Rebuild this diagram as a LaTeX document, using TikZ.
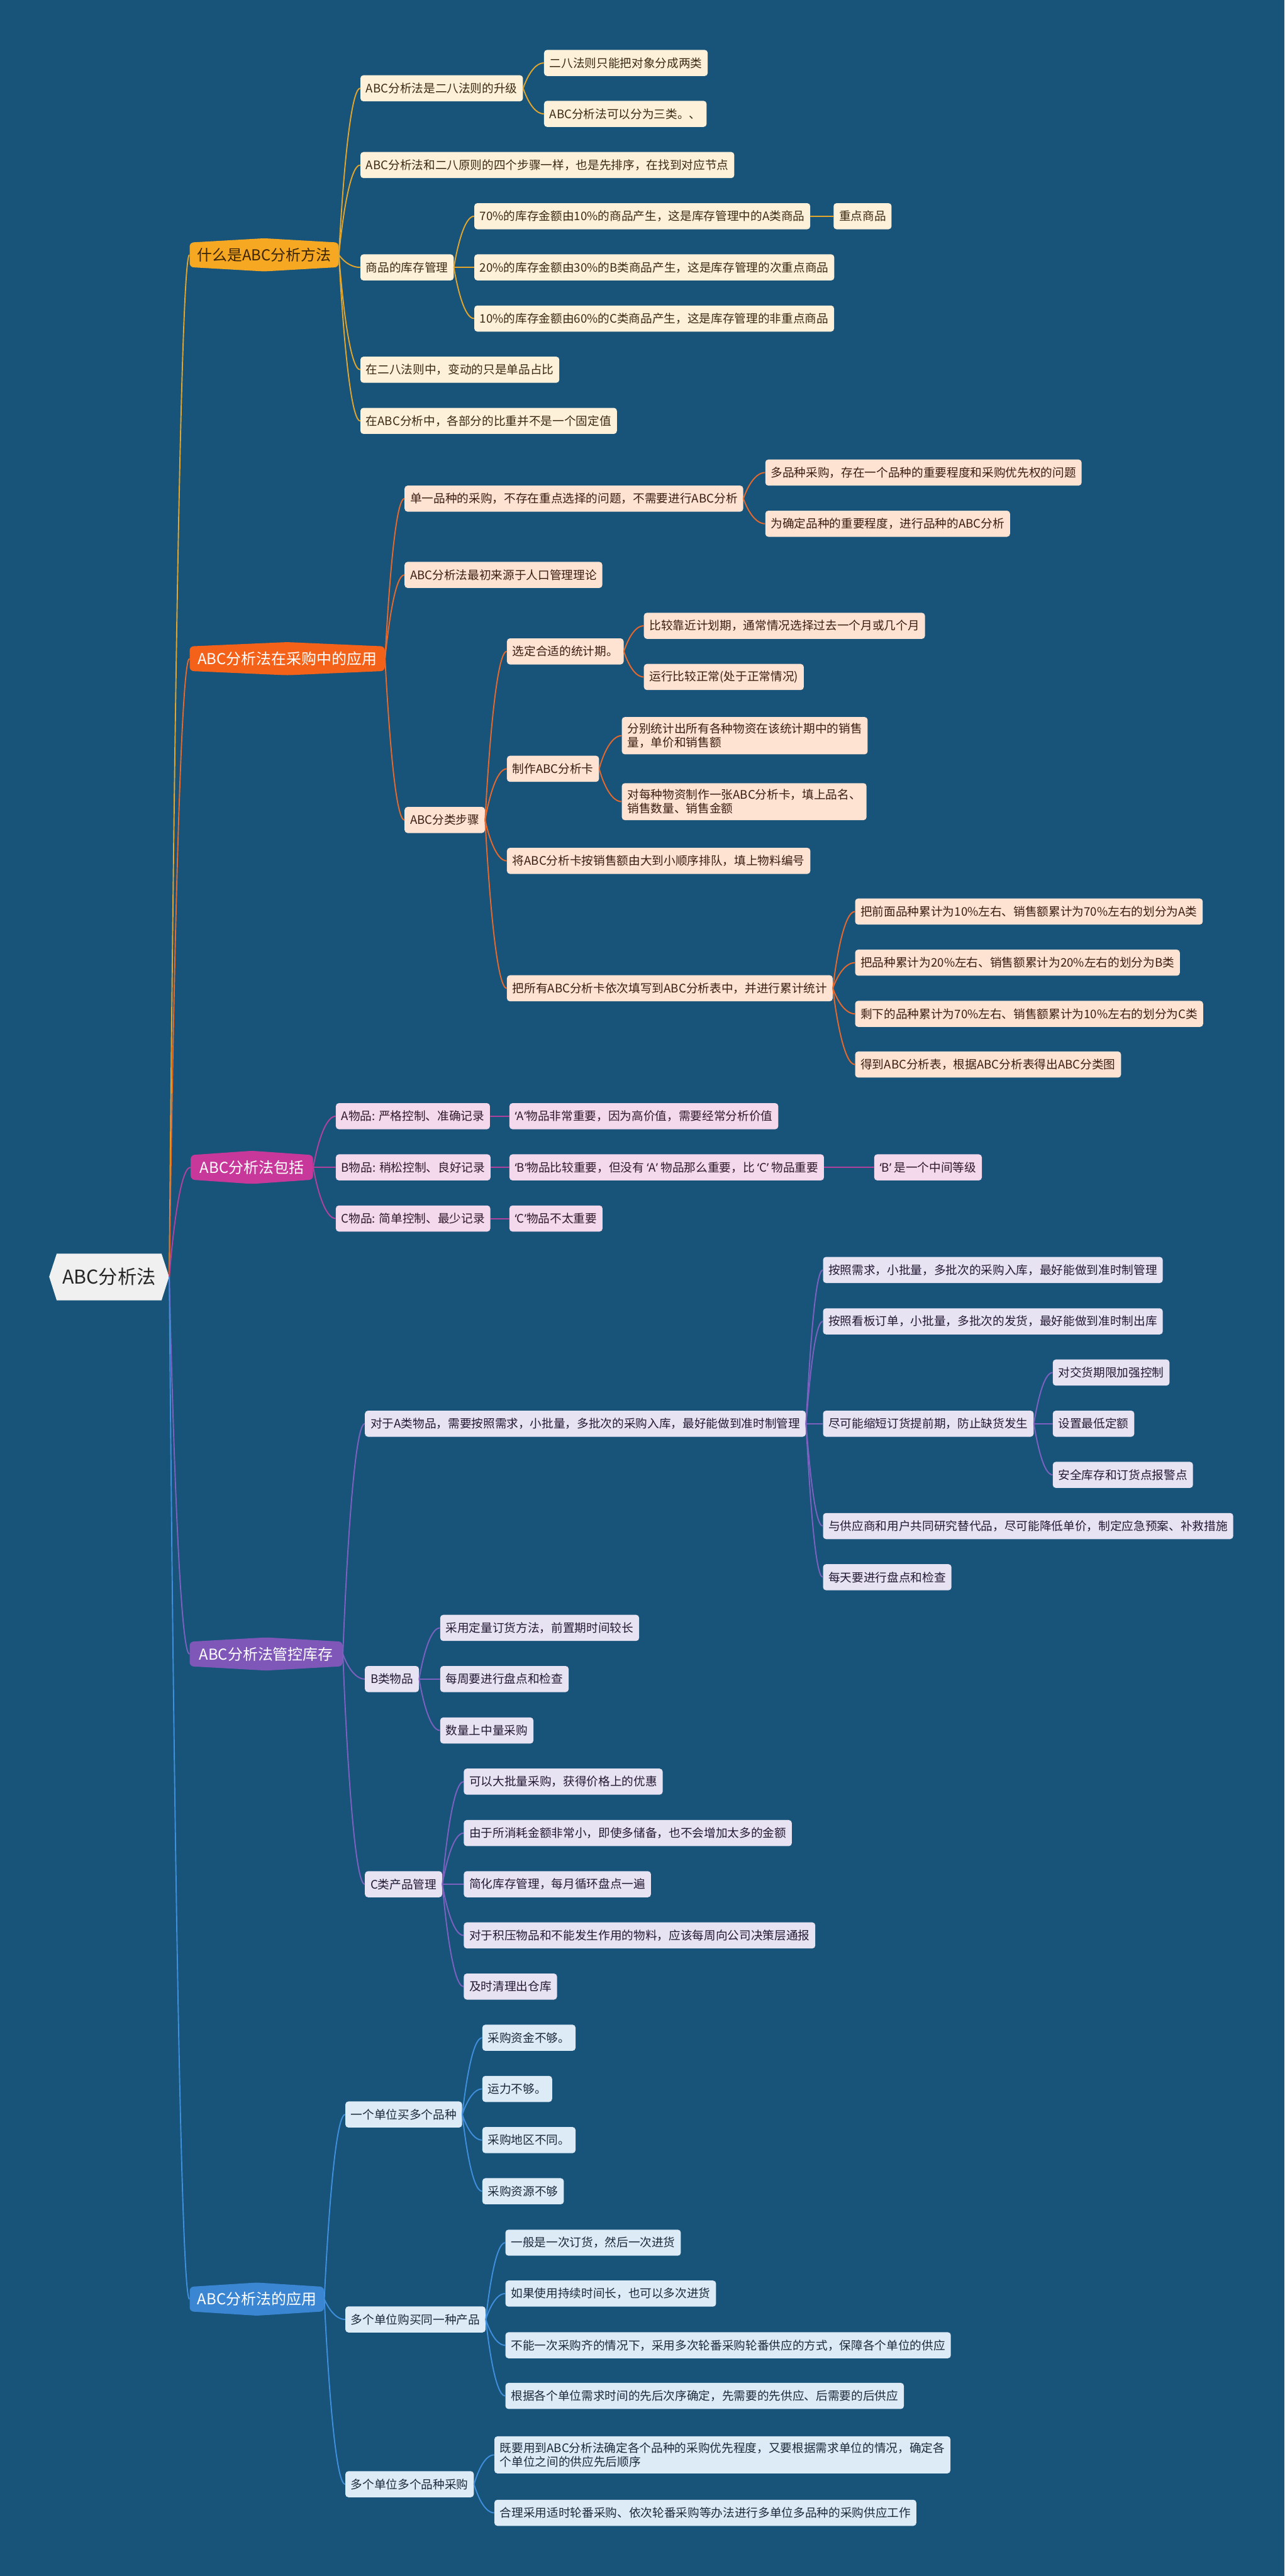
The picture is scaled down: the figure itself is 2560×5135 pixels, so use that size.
\documentclass[tikz,border=0pt]{standalone}
\usepackage{fontspec}
\setmainfont{Noto Sans CJK SC}
\newfontfamily\qfont{Noto Sans}
\newcommand\mmquote[1]{{\qfont ‘}#1{\qfont ’}}
\usetikzlibrary{calc}
\definecolor{bg}{RGB}{24,84,121}
\definecolor{rootf}{HTML}{F0F0F0}
\definecolor{roott}{HTML}{262626}
% section colours: category fill, line, leaf fill, leaf text
\definecolor{c1f}{HTML}{F7A823}\definecolor{k1}{HTML}{E3A52B}\definecolor{f1}{HTML}{FEF1DA}\definecolor{t1}{HTML}{3B2A12}
\definecolor{c2f}{HTML}{F4621A}\definecolor{k2}{HTML}{E8682C}\definecolor{f2}{HTML}{FEE2D2}\definecolor{t2}{HTML}{3A1E10}
\definecolor{c3f}{HTML}{C8389B}\definecolor{k3}{HTML}{B0429E}\definecolor{f3}{HTML}{F4D8EC}\definecolor{t3}{HTML}{2E1A2A}
\definecolor{c4f}{HTML}{7E57B8}\definecolor{k4}{HTML}{7D61C0}\definecolor{f4}{HTML}{E8E3F3}\definecolor{t4}{HTML}{221A33}
\definecolor{c5f}{HTML}{3B86D3}\definecolor{k5}{HTML}{3F8FDC}\definecolor{f5}{HTML}{DDEBF7}\definecolor{t5}{HTML}{1A2A3A}
\definecolor{c1t}{HTML}{3B2506}
\tikzset{
  leaf/.style={anchor=west, rounded corners=3pt, inner xsep=5.5pt, inner ysep=2pt,
    minimum height=26pt, font=\fontsize{11.7pt}{14pt}\selectfont},
  twoline/.style={align=left, inner ysep=6pt},
  l1/.style={leaf, fill=f1, text=t1},
  l2/.style={leaf, fill=f2, text=t2},
  l3/.style={leaf, fill=f3, text=t3},
  l4/.style={leaf, fill=f4, text=t4},
  l5/.style={leaf, fill=f5, text=t5},
  cattext/.style={inner sep=0pt, minimum height=24.5pt, font=\fontsize{15pt}{18pt}\selectfont},
  w1/.style={line width=1.2pt, draw=k1},
  w2/.style={line width=1.2pt, draw=k2},
  w3/.style={line width=1.2pt, draw=k3},
  w4/.style={line width=1.2pt, draw=k4},
  w5/.style={line width=1.2pt, draw=k5},
}
\newcommand\mmcat[7]{%
  \fill[#5, rounded corners=4pt] (#2,#4) -- (#2,#4-24.5) -- ({(#2+#3)/2},#4-33) -- (#3,#4-24.5) -- (#3,#4+24.5) -- ({(#2+#3)/2},#4+33) -- (#2,#4+24.5) -- cycle;
  \node[cattext, text=#6, minimum width={(#3-#2)*0.5pt}] (#1) at ({(#2+#3)/2},#4) {#7};}
\newcommand\mmlink[3]{%
  \draw[#1] let \p1=(#2.east), \p2=(#3.west) in
    (\p1) .. controls (\x1+3pt, {\y1+0.35*(\y2-\y1)}) and ({0.5*(\x1+\x2)},\y2) .. (\p2);}
\begin{document}
\begin{tikzpicture}[x=0.5pt, y=-0.5pt]
\useasboundingbox (0,0) rectangle (2560,5135);
\fill[bg] (0,0) rectangle (2560,5135);

% root
\fill[rootf] (98,2545) -- (113,2499) -- (322,2499) -- (337,2545) -- (322,2592) -- (113,2592) -- cycle;
\node[inner sep=0pt, minimum width=119.5pt, minimum height=40pt, text=roott, font=\fontsize{19pt}{22pt}\selectfont] (root) at (217.5,2545) {ABC分析法};

% categories
\mmcat{c1}{378}{675}{508}{c1f}{c1t}{什么是ABC分析方法}
\mmcat{c2}{378}{767}{1313}{c2f}{white}{ABC分析法在采购中的应用}
\mmcat{c3}{380}{624}{2327}{c3f}{white}{ABC分析法包括}
\mmcat{c4}{378}{683}{3297}{c4f}{white}{ABC分析法管控库存}
\mmcat{c5}{378}{646}{4583}{c5f}{white}{ABC分析法的应用}

% section 1
\node[l1] (n11) at (718,176) {ABC分析法是二八法则的升级};
\node[l1] (n111) at (1084,125.5) {二八法则只能把对象分成两类};
\node[l1] (n112) at (1084,227) {ABC分析法可以分为三类。、};
\node[l1] (n12) at (718,329) {ABC分析法和二八原则的四个步骤一样，也是先排序，在找到对应节点};
\node[l1] (n13) at (718,533) {商品的库存管理};
\node[l1] (n131) at (945,431) {70\%的库存金额由10\%的商品产生，这是库存管理中的A类商品};
\node[l1] (n1311) at (1661,431) {重点商品};
\node[l1] (n132) at (945,533) {20\%的库存金额由30\%的B类商品产生，这是库存管理的次重点商品};
\node[l1] (n133) at (945,635) {10\%的库存金额由60\%的C类商品产生，这是库存管理的非重点商品};
\node[l1] (n14) at (718,737) {在二八法则中，变动的只是单品占比};
\node[l1] (n15) at (718,839) {在ABC分析中，各部分的比重并不是一个固定值};

% section 2
\node[l2] (n21) at (806,994) {单一品种的采购，不存在重点选择的问题，不需要进行ABC分析};
\node[l2] (n211) at (1525,942) {多品种采购，存在一个品种的重要程度和采购优先权的问题};
\node[l2] (n212) at (1525,1044) {为确定品种的重要程度，进行品种的ABC分析};
\node[l2] (n22) at (806,1146) {ABC分析法最初来源于人口管理理论};
\node[l2] (n23) at (806,1634.5) {ABC分类步骤};
\node[l2] (n231) at (1010,1298.5) {选定合适的统计期。};
\node[l2] (n2311) at (1283,1247.5) {比较靠近计划期，通常情况选择过去一个月或几个月};
\node[l2] (n2312) at (1283,1349.5) {运行比较正常(处于正常情况)};
\node[l2] (n232) at (1010,1532.5) {制作ABC分析卡};
\node[l2, twoline] (n2321) at (1239,1466.5) {分别统计出所有各种物资在该统计期中的销售\\量，单价和销售额};
\node[l2, twoline] (n2322) at (1239,1598) {对每种物资制作一张ABC分析卡，填上品名、\\销售数量、销售金额};
\node[l2] (n233) at (1010,1716) {将ABC分析卡按销售额由大到小顺序排队，填上物料编号};
\node[l2] (n234) at (1010,1970) {把所有ABC分析卡依次填写到ABC分析表中，并进行累计统计};
\node[l2] (n2341) at (1704,1817) {把前面品种累计为10\%左右、销售额累计为70\%左右的划分为A类};
\node[l2] (n2342) at (1704,1919) {把品种累计为20\%左右、销售额累计为20\%左右的划分为B类};
\node[l2] (n2343) at (1704,2021) {剩下的品种累计为70\%左右、销售额累计为10\%左右的划分为C类};
\node[l2] (n2344) at (1704,2122) {得到ABC分析表，根据ABC分析表得出ABC分类图};

% section 3
\node[l3] (n31) at (669,2225) {A物品: 严格控制、准确记录};
\node[l3] (n311) at (1015,2225) {\mmquote{A}物品非常重要，因为高价值，需要经常分析价值};
\node[l3] (n32) at (669,2327) {B物品: 稍松控制、良好记录};
\node[l3] (n321) at (1015,2327) {\mmquote{B}物品比较重要，但没有 \mmquote{A} 物品那么重要，比 \mmquote{C} 物品重要};
\node[l3] (n3211) at (1742,2327) {\mmquote{B} 是一个中间等级};
\node[l3] (n33) at (669,2429) {C物品: 简单控制、最少记录};
\node[l3] (n331) at (1015,2429) {\mmquote{C}物品不太重要};

% section 4
\node[l4] (n41) at (727,2838) {对于A类物品，需要按照需求，小批量，多批次的采购入库，最好能做到准时制管理};
\node[l4] (n411) at (1640,2531.5) {按照需求，小批量，多批次的采购入库，最好能做到准时制管理};
\node[l4] (n412) at (1640,2634) {按照看板订单，小批量，多批次的发货，最好能做到准时制出库};
\node[l4] (n413) at (1640,2838) {尽可能缩短订货提前期，防止缺货发生};
\node[l4] (n4131) at (2098,2736) {对交货期限加强控制};
\node[l4] (n4132) at (2098,2838) {设置最低定额};
\node[l4] (n4133) at (2098,2940) {安全库存和订货点报警点};
\node[l4] (n414) at (1640,3042) {与供应商和用户共同研究替代品，尽可能降低单价，制定应急预案、补救措施};
\node[l4] (n415) at (1640,3144) {每天要进行盘点和检查};
\node[l4] (n42) at (727,3347) {B类物品};
\node[l4] (n421) at (877,3245) {采用定量订货方法，前置期时间较长};
\node[l4] (n422) at (877,3347) {每周要进行盘点和检查};
\node[l4] (n423) at (877,3449.5) {数量上中量采购};
\node[l4] (n43) at (727,3756) {C类产品管理};
\node[l4] (n431) at (924,3551.5) {可以大批量采购，获得价格上的优惠};
\node[l4] (n432) at (924,3654) {由于所消耗金额非常小，即使多储备，也不会增加太多的金额};
\node[l4] (n433) at (924,3756) {简化库存管理，每月循环盘点一遍};
\node[l4] (n434) at (924,3858) {对于积压物品和不能发生作用的物料，应该每周向公司决策层通报};
\node[l4] (n435) at (924,3960) {及时清理出仓库};

% section 5
\node[l5] (n51) at (688,4215) {一个单位买多个品种};
\node[l5] (n511) at (961,4062) {采购资金不够。};
\node[l5] (n512) at (961,4164) {运力不够。};
\node[l5] (n513) at (961,4266) {采购地区不同。};
\node[l5] (n514) at (961,4368) {采购资源不够};
\node[l5] (n52) at (688,4623.5) {多个单位购买同一种产品};
\node[l5] (n521) at (1007,4470.5) {一般是一次订货，然后一次进货};
\node[l5] (n522) at (1007,4572) {如果使用持续时间长，也可以多次进货};
\node[l5] (n523) at (1007,4675) {不能一次采购齐的情况下，采用多次轮番采购轮番供应的方式，保障各个单位的供应};
\node[l5] (n524) at (1007,4776) {根据各个单位需求时间的先后次序确定，先需要的先供应、后需要的后供应};
\node[l5] (n53) at (688,4952) {多个单位多个品种采购};
\node[l5, twoline] (n531) at (985,4893.5) {既要用到ABC分析法确定各个品种的采购优先程度，又要根据需求单位的情况，确定各\\个单位之间的供应先后顺序};
\node[l5] (n532) at (985,5009) {合理采用适时轮番采购、依次轮番采购等办法进行多单位多品种的采购供应工作};

% connectors: root
\mmlink{w1}{root}{c1}
\mmlink{w2}{root}{c2}
\mmlink{w3}{root}{c3}
\mmlink{w4}{root}{c4}
\mmlink{w5}{root}{c5}
% section 1
\foreach \b in {n11,n12,n13,n14,n15} {\mmlink{w1}{c1}{\b}}
\foreach \b in {n111,n112} {\mmlink{w1}{n11}{\b}}
\foreach \b in {n131,n132,n133} {\mmlink{w1}{n13}{\b}}
\mmlink{w1}{n131}{n1311}
% section 2
\foreach \b in {n21,n22,n23} {\mmlink{w2}{c2}{\b}}
\foreach \b in {n211,n212} {\mmlink{w2}{n21}{\b}}
\foreach \b in {n231,n232,n233,n234} {\mmlink{w2}{n23}{\b}}
\foreach \b in {n2311,n2312} {\mmlink{w2}{n231}{\b}}
\foreach \b in {n2321,n2322} {\mmlink{w2}{n232}{\b}}
\foreach \b in {n2341,n2342,n2343,n2344} {\mmlink{w2}{n234}{\b}}
% section 3
\foreach \b in {n31,n32,n33} {\mmlink{w3}{c3}{\b}}
\mmlink{w3}{n31}{n311}
\mmlink{w3}{n32}{n321}
\mmlink{w3}{n321}{n3211}
\mmlink{w3}{n33}{n331}
% section 4
\foreach \b in {n41,n42,n43} {\mmlink{w4}{c4}{\b}}
\foreach \b in {n411,n412,n413,n414,n415} {\mmlink{w4}{n41}{\b}}
\foreach \b in {n4131,n4132,n4133} {\mmlink{w4}{n413}{\b}}
\foreach \b in {n421,n422,n423} {\mmlink{w4}{n42}{\b}}
\foreach \b in {n431,n432,n433,n434,n435} {\mmlink{w4}{n43}{\b}}
% section 5
\foreach \b in {n51,n52,n53} {\mmlink{w5}{c5}{\b}}
\foreach \b in {n511,n512,n513,n514} {\mmlink{w5}{n51}{\b}}
\foreach \b in {n521,n522,n523,n524} {\mmlink{w5}{n52}{\b}}
\foreach \b in {n531,n532} {\mmlink{w5}{n53}{\b}}
\end{tikzpicture}
\end{document}
